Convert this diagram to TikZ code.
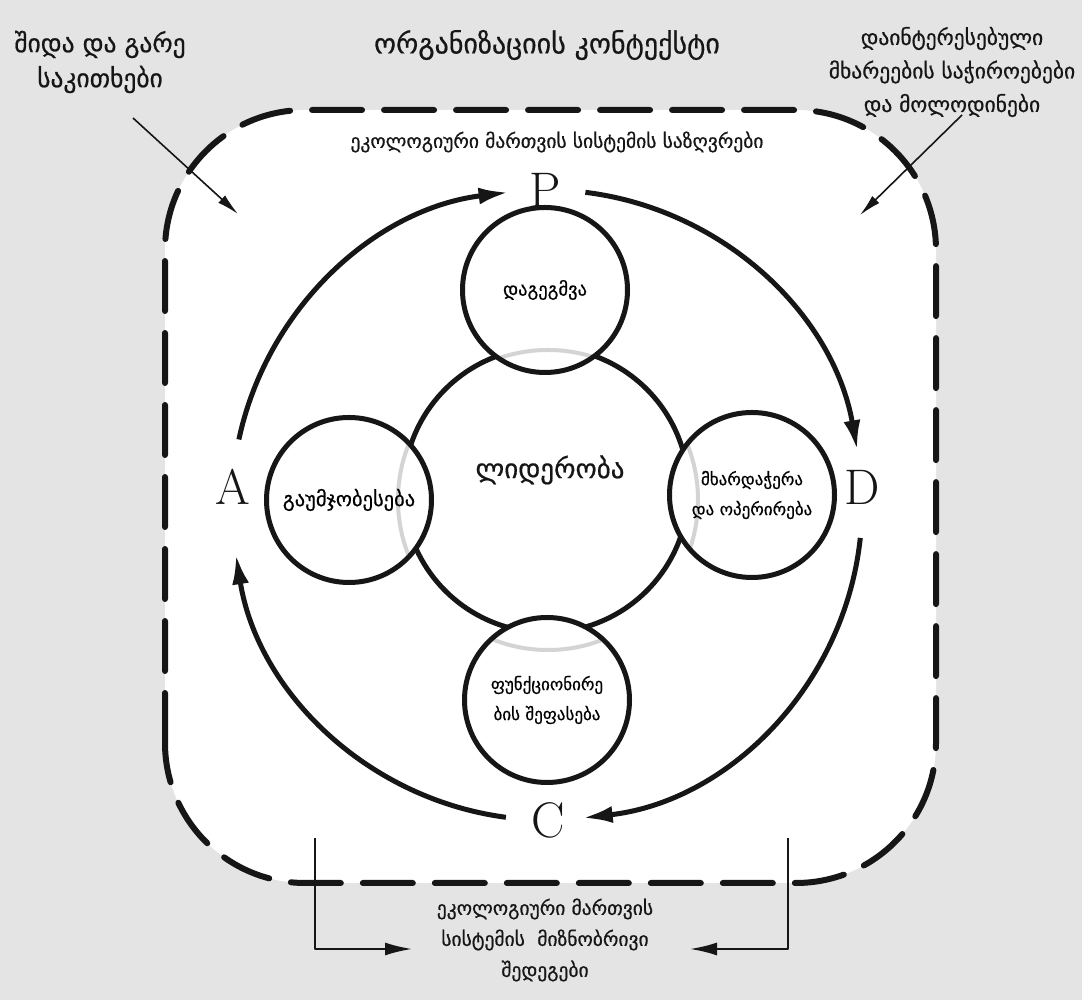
\documentclass[tikz,border=0pt]{standalone}
\usepackage{fontspec}
\newfontfamily\geofont[FakeBold=0.6]{DejaVu Sans}
\usetikzlibrary{arrows.meta,positioning}
\definecolor{paper}{RGB}{228,228,228}
\definecolor{ghost}{RGB}{212,212,212}
\definecolor{ink}{RGB}{22,22,22}

\begin{document}
\begin{tikzpicture}[x=1pt,y=1pt,line join=round,
  phase/.style={circle,draw=ink,line width=5pt,minimum size=165pt,inner sep=0pt,align=center,
    font=\geofont\fontsize{17}{30}\selectfont},
  letter/.style={inner sep=0pt,text=ink,font=\fontsize{50}{50}\selectfont},
  cyclearrow/.style={draw=ink,line width=5pt,-{Latex[length=30pt,width=17pt]}},
  frame/.style={draw=ink,line width=6pt,rounded corners=140pt,dash pattern=on 50pt off 22pt,line cap=round},
  pointer/.style={draw=ink,line width=1.6pt,-{Latex[length=22pt,width=10pt]}},
  bracket/.style={draw=ink,line width=2pt,-{Latex[length=27pt,width=13pt]}},
  head/.style={inner sep=0pt,align=center,text=ink,font=\geofont\fontsize{28}{35}\selectfont},
  note/.style={inner sep=0pt,align=center,text=ink,font=\geofont\fontsize{21.5}{33.5}\selectfont},
  small/.style={inner sep=0pt,align=center,text=ink,font=\geofont\fontsize{19.5}{31}\selectfont}]
\useasboundingbox (0,0) rectangle (1082,1000);
\fill[paper] (0,0) rectangle (1082,1000);

% system boundary
\path[frame,fill=white] (165,117) rectangle (936,890);

% PDCA cycle
\coordinate (O) at (547,495);
\node[letter] (P) at (545,810) {P};
\node[letter] (D) at (862,513) {D};
\node[letter] (C) at (548,180) {C};
\node[letter] (A) at (233,513) {A};
\draw[cyclearrow] (O) ++(168:315) arc[start angle=168,end angle=97,radius=315];
\draw[cyclearrow] (O) ++(83:315) arc[start angle=83,end angle=10,radius=315];
\draw[cyclearrow] (O) ++(-6:315) arc[start angle=-6,end angle=-83.5,radius=315];
\draw[cyclearrow] (O) ++(-97.5:315) arc[start angle=-97.5,end angle=-171,radius=315];

% leadership ring and the four clauses
\coordinate (planc) at (545,710);
\coordinate (supportc) at (752,505);
\coordinate (checkc) at (547,300);
\coordinate (actc) at (349,500);
\node[circle,draw=ink,line width=5pt,minimum size=285pt,inner sep=0pt] (lead) at (546,510) {};
\fill[white] (planc) circle (82pt) (supportc) circle (82pt) (checkc) circle (82pt) (actc) circle (82pt);
\begin{scope}
  \clip (planc) circle (80pt) (supportc) circle (80pt) (checkc) circle (80pt) (actc) circle (80pt);
  \draw[ghost,line width=4pt] (548,500) circle (150pt);
\end{scope}
\node[phase,font=\geofont\fontsize{18.5}{30}\selectfont] (plan) at (planc) {დაგეგმვა};
\node[phase] (support) at (supportc) {მხარდაჭერა\\და ოპერირება};
\node[phase] (check) at (checkc) {ფუნქციონირე\\ბის შეფასება};
\node[phase,font=\geofont\fontsize{20.5}{30}\selectfont] (act) at (actc) {გაუმჯობესება};
\node[head,font=\geofont\fontsize{27}{35}\selectfont] (leadtext) at (550,530) {ლიდერობა};

% context texts
\node[head] (context) at (547,955) {ორგანიზაციის კონტექსტი};
\node[head,font=\geofont\fontsize{25.5}{35}\selectfont] (issues) at (100,938) {შიდა და გარე\\საკითხები};
\node[note] (needs) at (952,928) {დაინტერესებული\\მხარეების საჭიროებები\\და მოლოდინები};
\node[small] (scope) at (557,858) {ეკოლოგიური მართვის სისტემის საზღვრები};
\node[small] (results) at (545,60) {ეკოლოგიური მართვის\\სისტემის~~მიზნობრივი\\შედეგები};

\coordinate (issuesfrom) at (133,882);
\coordinate (issuesto) at (238,786);
\coordinate (needsfrom) at (962,885);
\coordinate (needsto) at (860,785);
\draw[pointer] (issuesfrom) -- (issuesto);
\draw[pointer] (needsfrom) -- (needsto);

\coordinate (outL) at (315,162);
\coordinate (tipL) at (412,51);
\coordinate (outR) at (788,162);
\coordinate (tipR) at (690,51);
\draw[bracket] (outL) |- (tipL);
\draw[bracket] (outR) |- (tipR);
\end{tikzpicture}
\end{document}
